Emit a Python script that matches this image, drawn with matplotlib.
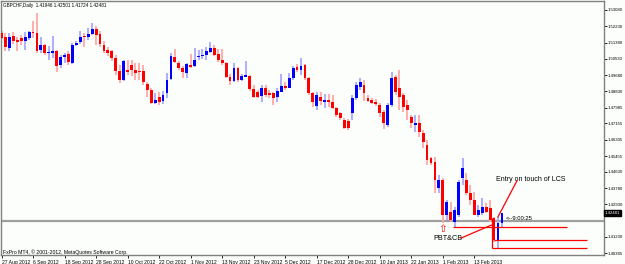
import matplotlib.pyplot as plt
import numpy as np

plt.rcParams['font.family'] = ['Liberation Sans Narrow', 'Liberation Sans', 'DejaVu Sans']

# GBPCHF daily candles, 27 Aug 2012 .. 22 Feb 2013
opens = [1.5188, 1.5167, 1.5110, 1.5172, 1.5151, 1.5162, 1.5146, 1.5162, 1.5193, 1.5188,
         1.5099, 1.5125, 1.5084, 1.5084, 1.5094, 1.5021, 1.5063, 1.5078, 1.5031, 1.5125,
         1.5141, 1.5172, 1.5167, 1.5183, 1.5209, 1.5183, 1.5125, 1.5099, 1.5094, 1.5057,
         1.4990, 1.4943, 1.4995, 1.5021, 1.4995, 1.4990, 1.4990, 1.4922, 1.4890, 1.4823,
         1.4854, 1.4833, 1.4875, 1.4948, 1.5063, 1.5031, 1.5005, 1.4979, 1.5021, 1.5016,
         1.5063, 1.5068, 1.5073, 1.5089, 1.5110, 1.5078, 1.5047, 1.5031, 1.4958, 1.4937,
         1.5005, 1.4943, 1.4958, 1.4963, 1.4896, 1.4880, 1.4859, 1.4901, 1.4875, 1.4875,
         1.4854, 1.4880, 1.4911, 1.4901, 1.4953, 1.5010, 1.4995, 1.5021, 1.4953, 1.4875,
         1.4807, 1.4854, 1.4828, 1.4838, 1.4828, 1.4796, 1.4770, 1.4734, 1.4729, 1.4770,
         1.4849, 1.4906, 1.4916, 1.4849, 1.4838, 1.4828, 1.4812, 1.4776, 1.4708, 1.4812,
         1.4958, 1.4901, 1.4864, 1.4812, 1.4750, 1.4708, 1.4718, 1.4666, 1.4603, 1.4535,
         1.4515, 1.4379, 1.4421, 1.4238, 1.4254, 1.4201, 1.4238, 1.4431, 1.4421, 1.4353,
         1.4316, 1.4238, 1.4248, 1.4280, 1.4274, 1.4222, 1.4107, 1.41946]
highs = [1.5198, 1.5188, 1.5188, 1.5193, 1.5167, 1.5177, 1.5193, 1.5198, 1.5251, 1.5292,
         1.5167, 1.5131, 1.5120, 1.5172, 1.5099, 1.5073, 1.5084, 1.5094, 1.5136, 1.5146,
         1.5198, 1.5188, 1.5214, 1.5240, 1.5224, 1.5198, 1.5146, 1.5115, 1.5099, 1.5073,
         1.5021, 1.5047, 1.5047, 1.5047, 1.5031, 1.5031, 1.5021, 1.4932, 1.4901, 1.4875,
         1.4880, 1.4885, 1.4979, 1.5084, 1.5104, 1.5042, 1.5016, 1.5031, 1.5078, 1.5110,
         1.5099, 1.5104, 1.5115, 1.5141, 1.5125, 1.5104, 1.5104, 1.5037, 1.4974, 1.5031,
         1.5010, 1.4974, 1.5042, 1.4969, 1.4916, 1.4890, 1.4916, 1.4916, 1.4890, 1.4880,
         1.4901, 1.4974, 1.4932, 1.4979, 1.5016, 1.5026, 1.5057, 1.5026, 1.4958, 1.4880,
         1.4880, 1.4880, 1.4870, 1.4870, 1.4864, 1.4802, 1.4776, 1.4744, 1.4739, 1.4864,
         1.4932, 1.4953, 1.4943, 1.4864, 1.4849, 1.4843, 1.4823, 1.4786, 1.4823, 1.4984,
         1.4969, 1.4995, 1.4875, 1.4838, 1.4760, 1.4760, 1.4760, 1.4682, 1.4629, 1.4541,
         1.4541, 1.4447, 1.4431, 1.4316, 1.4306, 1.4280, 1.4421, 1.4535, 1.4457, 1.4395,
         1.4358, 1.4290, 1.4327, 1.4301, 1.4316, 1.4227, 1.4227, 1.42501]
lows = [1.5157, 1.5094, 1.5094, 1.5131, 1.5094, 1.5125, 1.5099, 1.5151, 1.5162, 1.5084,
        1.5084, 1.5073, 1.5047, 1.5057, 1.4984, 1.5005, 1.5031, 1.5021, 1.5026, 1.5120,
        1.5131, 1.5115, 1.5151, 1.5177, 1.5125, 1.5115, 1.5084, 1.5068, 1.5042, 1.4969,
        1.4927, 1.4937, 1.4969, 1.4963, 1.4943, 1.4943, 1.4916, 1.4854, 1.4817, 1.4817,
        1.4812, 1.4817, 1.4849, 1.4943, 1.5031, 1.4995, 1.4953, 1.4953, 1.5005, 1.5010,
        1.5047, 1.5052, 1.5047, 1.5084, 1.5068, 1.5037, 1.5021, 1.4953, 1.4916, 1.4932,
        1.4932, 1.4937, 1.4958, 1.4885, 1.4849, 1.4849, 1.4828, 1.4854, 1.4849, 1.4812,
        1.4828, 1.4880, 1.4890, 1.4901, 1.4943, 1.4984, 1.4969, 1.4943, 1.4864, 1.4802,
        1.4786, 1.4812, 1.4796, 1.4802, 1.4791, 1.4750, 1.4734, 1.4687, 1.4682, 1.4734,
        1.4838, 1.4890, 1.4833, 1.4828, 1.4817, 1.4807, 1.4750, 1.4687, 1.4697, 1.4802,
        1.4864, 1.4786, 1.4776, 1.4734, 1.4692, 1.4671, 1.4645, 1.4588, 1.4499, 1.4499,
        1.4353, 1.4353, 1.4196, 1.4212, 1.4201, 1.4175, 1.4227, 1.4395, 1.4342, 1.4290,
        1.4238, 1.4227, 1.4238, 1.4248, 1.4201, 1.4097, 1.4063, 1.41724]
closes = [1.5162, 1.5115, 1.5167, 1.5146, 1.5141, 1.5146, 1.5167, 1.5193, 1.5188, 1.5094,
          1.5125, 1.5084, 1.5089, 1.5094, 1.5016, 1.5063, 1.5073, 1.5037, 1.5125, 1.5136,
          1.5167, 1.5167, 1.5183, 1.5209, 1.5177, 1.5131, 1.5094, 1.5084, 1.5057, 1.4990,
          1.4943, 1.5042, 1.4984, 1.4995, 1.4979, 1.4984, 1.4932, 1.4890, 1.4823, 1.4838,
          1.4828, 1.4864, 1.4943, 1.5068, 1.5037, 1.5005, 1.4984, 1.5026, 1.5010, 1.5047,
          1.5068, 1.5073, 1.5094, 1.5110, 1.5073, 1.5047, 1.5031, 1.4958, 1.4937, 1.5005,
          1.4943, 1.4963, 1.4969, 1.4896, 1.4854, 1.4854, 1.4901, 1.4864, 1.4864, 1.4849,
          1.4885, 1.4911, 1.4901, 1.4953, 1.5005, 1.4995, 1.5016, 1.4953, 1.4875, 1.4828,
          1.4864, 1.4833, 1.4838, 1.4828, 1.4796, 1.4760, 1.4744, 1.4692, 1.4692, 1.4849,
          1.4916, 1.4932, 1.4875, 1.4833, 1.4823, 1.4817, 1.4770, 1.4718, 1.4812, 1.4953,
          1.4880, 1.4854, 1.4802, 1.4786, 1.4718, 1.4718, 1.4671, 1.4619, 1.4525, 1.4509,
          1.4421, 1.4421, 1.4238, 1.4306, 1.4212, 1.4264, 1.4410, 1.4483, 1.4353, 1.4316,
          1.4238, 1.4264, 1.4280, 1.4254, 1.4212, 1.4107, 1.4196, 1.42481]

date_ticks = [0, 8, 16, 24, 32, 40, 48, 56, 64, 72, 80, 88, 96, 104, 112, 120]
date_labels = ['27 Aug 2012', '6 Sep 2012', '18 Sep 2012', '28 Sep 2012', '10 Oct 2012',
               '22 Oct 2012', '1 Nov 2012', '13 Nov 2012', '23 Nov 2012', '5 Dec 2012',
               '17 Dec 2012', '28 Dec 2012', '10 Jan 2013', '22 Jan 2013', '1 Feb 2013',
               '13 Feb 2013']
price_ticks = [1.53080, 1.52230, 1.51380, 1.50530, 1.49680, 1.48830, 1.47985, 1.47155,
               1.46305, 1.45455, 1.44630, 1.43780, 1.42930, 1.41230, 1.40385]

bg = '#FCFEFC'
fig = plt.figure(figsize=(6.25, 2.64), dpi=100, facecolor=bg)
ax = fig.add_axes([1/625, 9/264, 603/625, 254/264], facecolor=bg)

o = np.array(opens); h = np.array(highs); l = np.array(lows); c = np.array(closes)
x = np.arange(len(o))
up = c >= o
body_col = np.where(up, '#0000FF', '#FF0000')
wick_col = np.where(up, '#A8A8FF', '#FFA8A8')
ax.vlines(x, l, h, colors=wick_col, linewidth=1.3, zorder=2)
bottom = np.minimum(o, c)
height = np.maximum(np.abs(c - o), 0.0003)
ax.bar(x, height, bottom=bottom, width=0.72, color=body_col, linewidth=0, zorder=3)

# horizontal price line across the chart
ax.axhline(1.4207, color='#A0A0A0', linewidth=1.6, zorder=1)

# drawn levels
sup = lows[115]
ax.hlines(sup, 114.7, 143.5, colors='#FF0000', linewidth=0.9, zorder=4)
ax.hlines(closes[125], 125.0, 148.6, colors='#FF0000', linewidth=0.9, zorder=4)
ax.hlines(lows[126], 124.6, 148.6, colors='#FF0000', linewidth=0.9, zorder=4)
ax.vlines(124.6, lows[126], 1.4222, colors='#FF0000', linewidth=0.9, zorder=4)

# arrow under the signal bar
ax.text(112, lows[112] - 0.0003, '\u21e7', color='#FF0000', fontsize=7.5,
        ha='center', va='top', family='DejaVu Sans', zorder=5)

# annotations
ax.text(125.5, 1.4425, 'Entry on touch of LCS', fontsize=5.0, color='#000000',
        ha='left', va='center')
ax.plot([130.8, 126.0], [1.4416, 1.4228], color='#FF0000', linewidth=0.9, zorder=4)
ax.text(109.5, 1.4115, 'PBT&CB', fontsize=5.2, color='#000000', ha='left', va='center')
ax.plot([116.6, 124.3], [1.4117, 1.4185], color='#FF0000', linewidth=0.9, zorder=4)
ax.text(128.0, 1.4220, '<--9:00:25', fontsize=4.2, color='#000000', ha='left', va='center')

ax.set_xlim(-0.13, 152.9)
ax.set_ylim(1.40289, 1.53548)

ax.yaxis.tick_right()
ax.set_yticks(price_ticks)
ax.set_yticklabels(['%.5f' % p for p in price_ticks])
ax.tick_params(axis='y', labelsize=3.1, length=2.0, width=0.6, pad=0.8, colors='#000000')
ax.set_xticks(date_ticks)
ax.set_xticklabels(date_labels, ha='left')
ax.tick_params(axis='x', labelsize=3.6, length=2.5, width=0.6, pad=0.8)

# current price box on the scale
ax.text(1.0012, 1.42481, '1.42481', transform=ax.get_yaxis_transform(), fontsize=3.1,
        color='white', ha='left', va='center',
        bbox=dict(boxstyle='square,pad=0.15', fc='black', ec='black'))

for s in ax.spines.values():
    s.set_color('#808080')
    s.set_linewidth(1.0)

fig.text(3/625, 1 - 5/264, 'GBPCHF,Daily  1.41946 1.42501 1.41724 1.42481',
         fontsize=3.3, ha='left', va='center')
fig.text(3/625, 1 - 252/264, 'FxPro MT4, \u00a9 2001-2012, MetaQuotes Software Corp.',
         fontsize=3.7, ha='left', va='center')

fig.savefig('out.png', dpi=100, facecolor=bg)
